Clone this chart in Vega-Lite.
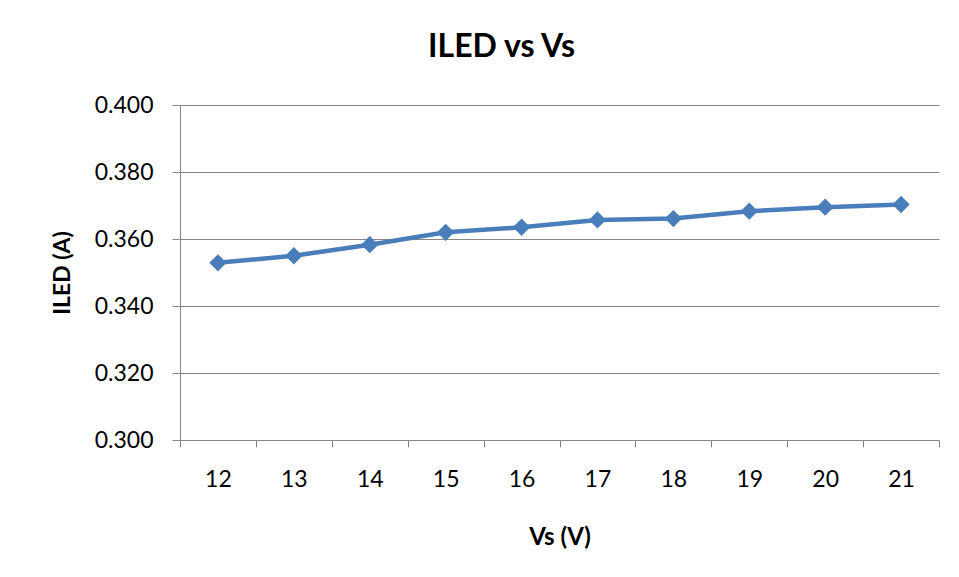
{
  "$schema": "https://vega.github.io/schema/vega-lite/v6.json",
  "width": 759,
  "height": 335,
  "autosize": {"type": "none"},
  "padding": {"left": 180, "top": 105, "right": 20, "bottom": 137},
  "background": "white",
  "title": {
    "text": "ILED vs Vs",
    "font": "Lato",
    "fontSize": 32,
    "fontWeight": "bold",
    "color": "#000000",
    "anchor": "middle",
    "frame": "group",
    "dx": -58,
    "offset": 30
  },
  "data": {
    "values": [
      {"Vs": 12, "ILED": 0.3529},
      {"Vs": 13, "ILED": 0.3550},
      {"Vs": 14, "ILED": 0.3583},
      {"Vs": 15, "ILED": 0.3620},
      {"Vs": 16, "ILED": 0.3635},
      {"Vs": 17, "ILED": 0.3657},
      {"Vs": 18, "ILED": 0.3661},
      {"Vs": 19, "ILED": 0.3683},
      {"Vs": 20, "ILED": 0.3695},
      {"Vs": 21, "ILED": 0.3703}
    ]
  },
  "encoding": {
    "x": {
      "field": "Vs",
      "type": "ordinal",
      "bandPosition": 0.5,
      "scale": {"type": "band", "paddingInner": 0, "paddingOuter": 0},
      "axis": {
        "title": "Vs (V)",
        "labelAngle": 0,
        "tickBand": "extent",
        "grid": false,
        "domainColor": "#868686",
        "tickColor": "#868686",
        "tickSize": 7,
        "labelFont": "Lato",
        "labelFontSize": 23,
        "labelColor": "#000000",
        "labelPadding": 21,
        "titleFont": "Lato",
        "titleFontSize": 24,
        "titleFontWeight": "bold",
        "titleColor": "#000000",
        "titlePadding": 34
      }
    },
    "y": {
      "field": "ILED",
      "type": "quantitative",
      "scale": {"domain": [0.3, 0.4], "nice": false, "zero": false},
      "axis": {
        "title": "ILED (A)",
        "values": [0.3, 0.32, 0.34, 0.36, 0.38, 0.4],
        "format": ".3f",
        "grid": true,
        "gridColor": "#868686",
        "gridWidth": 1,
        "domainColor": "#868686",
        "tickColor": "#868686",
        "tickSize": 8,
        "labelFont": "Lato",
        "labelFontSize": 23,
        "labelColor": "#000000",
        "labelPadding": 19,
        "titleFont": "Lato",
        "titleFontSize": 23,
        "titleFontWeight": "bold",
        "titleColor": "#000000",
        "titlePadding": 20
      }
    }
  },
  "layer": [
    {"mark": {"type": "line", "color": "#4A7EBB", "strokeWidth": 4.5}},
    {"mark": {"type": "point", "shape": "diamond", "size": 300, "filled": true, "color": "#4A7EBB", "opacity": 1}}
  ],
  "config": {"view": {"stroke": null}}
}
